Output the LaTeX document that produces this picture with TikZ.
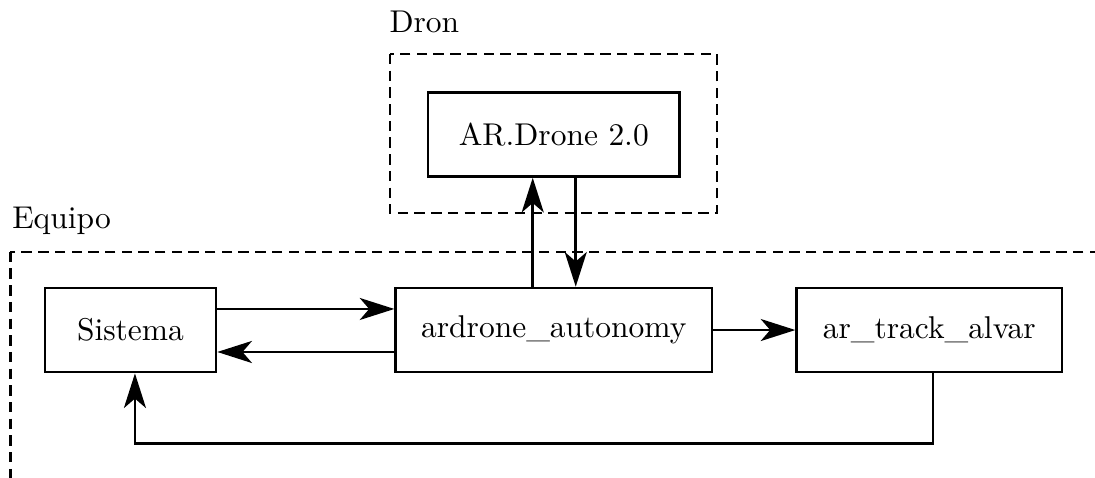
\documentclass[tikz,border=0pt]{standalone}
\usepackage{tikz}
\usetikzlibrary{calc,arrows.meta}
\tikzset{
  modulo/.style={draw, thick, minimum height=0.94cm, inner sep=0pt},
  grupo/.style={draw, thick, dash pattern=on 3.3pt off 2pt},
  flecha/.style={thick, -{Stealth[length=11pt,width=7pt,inset=3pt]}}
}

\begin{document}
\begin{tikzpicture}

            \clip (0,0) rectangle (12.22,-5.334);

            % drone
            \node [modulo, minimum width=2.81cm] (drone) at (6.18,-1.50) {AR.Drone 2.0};
            \coordinate (dronNW) at (4.35,-0.603);
            \coordinate (dronSE) at (8.00,-2.377);
            \draw [grupo] (dronNW) rectangle (dronSE);
            \node [anchor=base west, inner sep=0pt] (dron) at (4.34,-0.368) {Dron};

            % equipo
            \coordinate (equipoNW) at (0.117,-2.81);
            \coordinate (equipoSE) at (12.8,-5.8);
            \draw [grupo] (equipoNW) rectangle (equipoSE);
            \node [anchor=base west, inner sep=0pt] (equipo) at (0.13,-2.545) {Equipo};

            \node [modulo, minimum width=1.91cm] (sistema) at (1.456,-3.683) {Sistema};
            \node [modulo, minimum width=3.53cm] (autonomy) at (6.18,-3.683) {ardrone\_autonomy};
            \node [modulo, minimum width=2.96cm] (alvar) at (10.37,-3.683) {ar\_track\_alvar};

            \draw [flecha] ($(sistema.east)+(0,0.235)$) -- ($(autonomy.west)+(0,0.235)$);
            \draw [flecha] ($(autonomy.west)+(0,-0.245)$) -- ($(sistema.east)+(0,-0.245)$);
            \draw [flecha] (autonomy) -- (alvar);
            \draw [flecha] ($(autonomy.north)+(-0.235,0)$) -- ($(drone.south)+(-0.235,0)$);
            \draw [flecha] ($(drone.south)+(0.245,0)$) -- ($(autonomy.north)+(0.245,0)$);
            \draw [flecha] ($(alvar.south)+(0.04,0)$) -- ++(0,-0.78) -| ($(sistema.south)+(0.05,0)$);

        \end{tikzpicture}
\end{document}
